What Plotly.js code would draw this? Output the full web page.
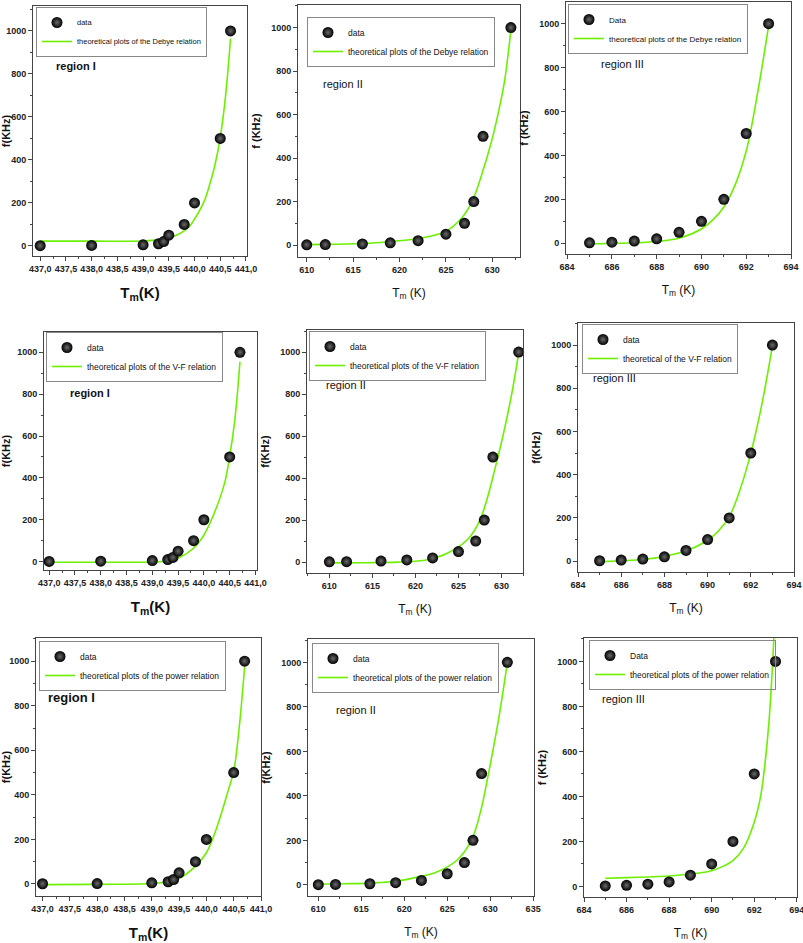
<!DOCTYPE html>
<html>
<head>
<meta charset="utf-8">
<script src="https://cdn.plot.ly/plotly-3.0.1.min.js"></script>
<style>html,body{margin:0;padding:0;background:#fff;}#chart{width:803px;height:943px;}</style>
</head>
<body>
<div id="chart"></div>
<script>
// ---------- data ----------
const tmRegionI   = [437.0, 438.0, 439.0, 439.3, 439.4, 439.5, 439.8, 440.0, 440.5, 440.7];
const tmRegionII  = [610, 612, 616, 619, 622, 625, 627, 628, 629, 632];
const tmRegionIII = [685, 686, 687, 688, 689, 690, 691, 692, 693];
const fRegionI    = [1, 2, 5, 10, 20, 50, 100, 200, 500, 1000];
const fRegionII   = [1, 2, 5, 10, 20, 50, 100, 200, 500, 1000];
const fRegionIII  = [2, 5, 10, 20, 50, 100, 200, 500, 1000];

// theoretical curves
const debyeI_T   = [437.0, 438.0, 439.0, 439.3, 439.5, 439.7, 439.9, 440.0, 440.1, 440.2, 440.3, 440.4, 440.5, 440.6, 440.7];
const debyeI_F   = [22, 22, 23, 28, 38, 55, 90, 125, 165, 215, 290, 380, 505, 690, 965];
const debyeII_T  = [610, 612, 615, 618, 620, 622.2, 624.9, 626.5, 627.8, 628.9, 629.9, 630.6, 631.3, 632];
const debyeII_F  = [2, 3, 6, 12, 20, 31, 61, 115, 199, 330, 475, 600, 750, 990];
const debyeIII_T = [685, 686, 687, 688, 689, 690, 690.5, 691, 691.5, 692, 692.5, 693];
const debyeIII_F = [-3, -1, 2, 8, 23, 65, 105, 165, 265, 420, 680, 990];

const vfI_T   = [437, 438, 439, 439.3, 439.5, 439.8, 440.0, 440.2, 440.4, 440.5, 440.6, 440.7];
const vfI_F   = [-3, -3, -2, 3, 16, 64, 127, 231, 374, 502, 677, 955];
const vfII_T  = [610, 614, 618, 620, 621.4, 623.7, 626, 627.5, 629.4, 631, 632];
const vfII_F  = [-4, -3, 0, 4, 11, 42, 105, 200, 470, 760, 995];
const vfIII_T = [685, 686, 687, 688, 689, 690, 690.5, 691, 691.5, 692, 692.5, 693];
const vfIII_F = [-3, 2, 8, 22, 48, 97, 140, 205, 330, 500, 720, 995];

const powI_T   = [437, 438, 439, 439.3, 439.5, 439.8, 440.0, 440.2, 440.4, 440.5, 440.6, 440.7];
const powI_F   = [-3, -2, 2, 10, 24, 80, 140, 260, 420, 505, 700, 975];
const powII_T  = [610, 613, 616, 619, 621.9, 623.5, 626.2, 627.85, 628.94, 629.7, 630.96, 632];
const powII_F  = [3, 5, 8, 16, 38, 53, 113, 203, 339, 480, 740, 1000];
const powIII_T = [685, 686, 687, 688, 689, 690, 690.5, 691, 691.5, 692, 692.3, 692.5, 692.7, 692.9, 693];
const powIII_F = [36, 39, 42, 46, 55, 70, 88, 115, 170, 285, 400, 540, 740, 1060, 1300];

const dataNames = ["data", "data", "Data", "data", "data", "data", "data", "data", "Data"];
const curveNames = [
  "theoretical plots of the Debye relation",
  "theoretical plots of the Debye relation",
  "theoretical plots of the Debye relation",
  "theoretical plots of the V-F relation",
  "theoretical plots of the V-F relation",
  "theoretical of the V-F relation",
  "theoretical plots of the power relation",
  "theoretical plots of the power relation",
  "theoretical plots of the power relation"
];
const regionLabels = ["region I", "region II", "region III", "region I", "region II", "region III", "region I", "region II", "region III"];

// ---------- layout helpers ----------
const W = 803, H = 943;
const FONT = "Liberation Sans Narrow, Arial Narrow, Liberation Sans, Arial, sans-serif";
const GREEN = "#6cf000";

const panels = [
  {T: tmRegionI,   F: fRegionI,   cT: debyeI_T,   cF: debyeI_F,   box: [33, 247, 6, 256],   xr: [436.86, 441.02], yr: [-47, 1116], reg: 1, lg: [36, 7, 7.5],  rp: [54, 66, true, 11],  xtBold: true},
  {T: tmRegionII,  F: fRegionII,  cT: debyeII_T,  cF: debyeII_F,  box: [298, 520, 5, 257],  xr: [609.06, 632.98], yr: [-55, 1104], reg: 2, lg: [307, 17, 8.5], rp: [321, 84, false, 11], xtBold: false},
  {T: tmRegionIII, F: fRegionIII, cT: debyeIII_T, cF: debyeIII_F, box: [566, 791, 2, 254],  xr: [683.95, 694.0],  yr: [-49, 1099], reg: 3, lg: [568, 4, 8],  rp: [599, 64, false, 11], xtBold: false},
  {T: tmRegionI,   F: fRegionI,   cT: vfI_T,      cF: vfI_F,      box: [44, 257, 332, 570], xr: [436.9, 441.03],  yr: [-40, 1097], reg: 1, lg: [46, 332, 8.5], rp: [68, 393, true, 11], xtBold: true},
  {T: tmRegionII,  F: fRegionII,  cT: vfII_T,     cF: vfII_F,     box: [307, 523, 330, 573], xr: [607.4, 632.5],  yr: [-52, 1105], reg: 2, lg: [309, 331, 8.5], rp: [324, 385, false, 11], xtBold: false},
  {T: tmRegionIII, F: fRegionIII, cT: vfIII_T,    cF: vfIII_F,    box: [578, 794, 323, 572], xr: [684.0, 694.0],  yr: [-50, 1102], reg: 3, lg: [582, 324, 8.5], rp: [591, 378, false, 11], xtBold: false},
  {T: tmRegionI,   F: fRegionI,   cT: powI_T,     cF: powI_F,     box: [36, 261, 638, 896], xr: [436.88, 441.0],  yr: [-54, 1104], reg: 1, lg: [39, 641, 8.5], rp: [46, 697, true, 13], xtBold: true},
  {T: tmRegionII,  F: fRegionII,  cT: powII_T,    cF: powII_F,    box: [308, 534, 639, 896], xr: [608.8, 635.1],  yr: [-50, 1105], reg: 2, lg: [312, 643, 8.5], rp: [334, 710, false, 11], xtBold: false},
  {T: tmRegionIII, F: fRegionIII, cT: powIII_T,   cF: powIII_F,   box: [584, 797, 638, 897], xr: [684.0, 694.01], yr: [-47, 1104], reg: 3, lg: [589, 640, 8.5], rp: [600, 699, false, 11], xtBold: false}
];

const traces = [];
const layout = {
  width: W, height: H,
  margin: {l: 0, r: 0, t: 0, b: 0},
  paper_bgcolor: "#ffffff",
  plot_bgcolor: "#ffffff",
  separators: ",.",
  font: {family: FONT, color: "#111"},
  annotations: []
};

panels.forEach((p, i) => {
  const n = i === 0 ? "" : String(i + 1);
  const xa = "x" + n, ya = "y" + n, lgName = "legend" + n;
  const [l, r, t, b] = p.box;

  traces.push({
    type: "scatter", mode: "lines", x: p.cT, y: p.cF, name: curveNames[i],
    xaxis: xa, yaxis: ya, legend: lgName, legendrank: 2,
    line: {color: GREEN, width: 1.6, shape: "spline", smoothing: 1}
  });
  traces.push({
    type: "scatter", mode: "markers", x: p.T, y: p.F, name: dataNames[i],
    xaxis: xa, yaxis: ya, legend: lgName, legendrank: 1, cliponaxis: false,
    marker: {size: 11, color: "#000", gradient: {type: "radial", color: "#6a6a6a"}, line: {width: 0}}
  });

  const xt = {
    domain: [l / W, r / W], range: p.xr, anchor: ya,
    showline: true, linecolor: "#444", linewidth: 1, mirror: true,
    ticks: "outside", ticklen: 4, tickwidth: 1, tickcolor: "#444",
    showgrid: false, zeroline: false, ticklabeloverflow: "allow",
    tickfont: {size: 9, family: FONT, weight: "bold", color: "#222"},
    title: {text: (p.reg === 1) ? "T<sub>m</sub>(K)" : "T<sub>m</sub> (K)", standoff: 14,
            font: {size: p.xtBold ? 15 : 12, family: FONT, weight: p.xtBold ? "bold" : "normal", color: "#111"}},
    automargin: false
  };
  if (p.reg === 1) { xt.dtick = 0.5; xt.tick0 = 437; xt.tickformat = ".1f"; xt.minor = {dtick: 0.25, ticks: "outside", ticklen: 2, tickcolor: "#444"}; }
  if (p.reg === 2) { xt.dtick = 5; xt.tick0 = 610; xt.minor = {dtick: 2.5, ticks: "outside", ticklen: 2, tickcolor: "#444"}; }
  if (p.reg === 3) { xt.dtick = 2; xt.tick0 = 684; xt.minor = {dtick: 1, ticks: "outside", ticklen: 2, tickcolor: "#444"}; }

  const yt = {
    domain: [1 - b / H, 1 - t / H], range: p.yr, anchor: xa,
    showline: true, linecolor: "#444", linewidth: 1, mirror: true,
    ticks: "outside", ticklen: 4, tickwidth: 1, tickcolor: "#444",
    dtick: 200, tick0: 0, ticklabeloverflow: "allow",
    minor: {dtick: 100, ticks: "outside", ticklen: 2, tickcolor: "#444"},
    showgrid: false, zeroline: false,
    tickfont: {size: 9, family: FONT, weight: "bold", color: "#222"},
    title: {text: (i === 1 || i === 2 || i === 8) ? "f (KHz)" : "f(KHz)", standoff: 8,
            font: {size: 11, family: "Liberation Sans, Arial, sans-serif", weight: "bold", color: "#111"}},
    automargin: false
  };
  layout["xaxis" + n] = xt;
  layout["yaxis" + n] = yt;

  layout[lgName] = {
    x: p.lg[0] / W, y: 1 - p.lg[1] / H, xanchor: "left", yanchor: "top",
    xref: "paper", yref: "paper",
    bgcolor: "rgba(255,255,255,0)", bordercolor: "#888", borderwidth: 1,
    font: {size: p.lg[2], family: FONT, color: "#111"},
    tracegroupgap: 0, itemwidth: 30, traceorder: "normal"
  };

  layout.annotations.push({
    xref: "paper", yref: "paper", x: p.rp[0] / W, y: 1 - p.rp[1] / H,
    xanchor: "left", yanchor: "middle", showarrow: false,
    text: regionLabels[i],
    font: {size: p.rp[3], family: FONT, weight: p.rp[2] ? "bold" : "normal", color: "#111"}
  });
});

Plotly.newPlot("chart", traces, layout, {displayModeBar: false, staticPlot: true});
</script>
</body>
</html>
